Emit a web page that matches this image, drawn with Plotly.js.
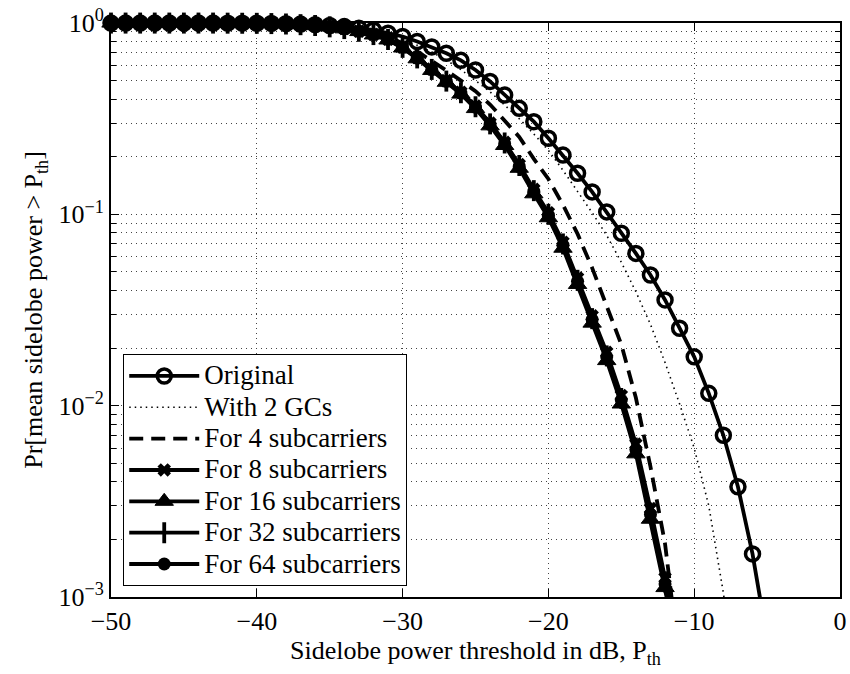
<!DOCTYPE html>
<html>
<head>
<meta charset="utf-8">
<script src="https://cdn.plot.ly/plotly-3.0.1.min.js"></script>
<style>html,body{margin:0;padding:0;background:#fff;}#chart{width:850px;height:674px;}</style>
</head>
<body>
<div id="chart"></div>
<script>
// Sidelobe power threshold (dB)
const thresholdDb = [-50,-49,-48,-47,-46,-45,-44,-43,-42,-41,-40,-39,-38,-37,-36,-35,-34,-33,-32,-31,-30,-29,-28,-27,-26,-25,-24,-23,-22,-21,-20,-19,-18,-17,-16,-15,-14,-13,-12,-11,-10,-9,-8,-7,-6,-5];

const original = [0.999,0.999,0.999,0.999,0.999,0.999,0.999,0.999,0.998,0.998,0.997,0.995,0.992,0.987,0.98,0.97,0.958,0.94,0.919,0.885,0.85,0.80,0.75,0.695,0.638,0.568,0.495,0.420,0.358,0.305,0.250,0.204,0.164,0.131,0.103,0.0796,0.0625,0.0482,0.0357,0.0254,0.0180,0.0116,0.0070,0.00377,0.00168,0.0006];

const with2GCs = [0.999,0.999,0.999,0.999,0.999,0.999,0.999,0.999,0.998,0.998,0.997,0.995,0.991,0.985,0.977,0.966,0.95,0.93,0.905,0.87,0.82,0.765,0.705,0.64,0.57,0.50,0.437,0.372,0.316,0.263,0.216,0.170,0.132,0.102,0.0776,0.0562,0.0394,0.0266,0.0168,0.0102,0.006,0.003,0.00105,0.0003];

const sub4 = [0.999,0.999,0.999,0.999,0.999,0.999,0.999,0.999,0.998,0.998,0.997,0.994,0.99,0.983,0.975,0.962,0.945,0.92,0.89,0.845,0.785,0.71,0.635,0.565,0.50,0.44,0.375,0.309,0.254,0.195,0.153,0.112,0.079,0.0525,0.0331,0.0209,0.011,0.0048,0.0019,0.00045];

const sub8 = [0.999,0.999,0.999,0.999,0.999,0.999,0.999,0.999,0.998,0.997,0.996,0.993,0.988,0.98,0.97,0.955,0.935,0.906,0.872,0.822,0.748,0.66,0.575,0.50,0.435,0.368,0.30,0.238,0.182,0.135,0.102,0.0715,0.0465,0.0295,0.019,0.0113,0.0063,0.0029,0.00126,0.00055];

const sub16 = [0.999,0.999,0.999,0.999,0.999,0.999,0.999,0.999,0.998,0.997,0.996,0.993,0.987,0.979,0.969,0.953,0.932,0.902,0.866,0.815,0.74,0.65,0.565,0.49,0.425,0.357,0.29,0.229,0.174,0.128,0.096,0.0665,0.043,0.027,0.0172,0.0102,0.0056,0.00255,0.00112,0.00048];

const sub32 = [0.999,0.999,0.999,0.999,0.999,0.999,0.999,0.999,0.998,0.997,0.996,0.993,0.988,0.98,0.97,0.955,0.935,0.905,0.87,0.82,0.746,0.657,0.572,0.497,0.432,0.365,0.297,0.236,0.18,0.133,0.1,0.07,0.0452,0.0285,0.0182,0.0109,0.006,0.00275,0.0012,0.00052];

const sub64 = [0.999,0.999,0.999,0.999,0.999,0.999,0.999,0.999,0.998,0.997,0.996,0.993,0.988,0.98,0.97,0.955,0.935,0.905,0.87,0.82,0.745,0.655,0.57,0.495,0.43,0.363,0.295,0.234,0.178,0.132,0.099,0.069,0.0447,0.0282,0.018,0.0107,0.0059,0.0027,0.00117,0.0005];

const seriesNames = ["Original","With 2 GCs","For 4 subcarriers","For 8 subcarriers","For 16 subcarriers","For 32 subcarriers","For 64 subcarriers"];

const yTickVals = [0.001, 0.01, 0.1, 1];
const yTickText = ["10<sup>−3</sup>","10<sup>−2</sup>","10<sup>−1</sup>","10<sup>0</sup>"];
const yMinorVals = [0.002,0.003,0.004,0.005,0.006,0.007,0.008,0.009,0.02,0.03,0.04,0.05,0.06,0.07,0.08,0.09,0.2,0.3,0.4,0.5,0.6,0.7,0.8,0.9];
const xTickVals = [-50,-40,-30,-20,-10,0];

const FONT = "Liberation Serif";
const gridDash = "1px,4px";
const gridColor = "#444";

function mk(y, name, line, marker) {
  const t = {
    x: thresholdDb.slice(0, y.length), y: y,
    name: '<span style="font-size:27px">' + name + '</span>', type: "scatter",
    mode: marker ? "lines+markers" : "lines",
    line: line, cliponaxis: false
  };
  if (marker) t.marker = marker;
  return t;
}

const traces = [
  mk(original, seriesNames[0], {color:"#000", width:3.8}, {symbol:"circle-open", size:14, color:"#000", line:{width:3.5, color:"#000"}}),
  mk(with2GCs, seriesNames[1], {color:"#000", width:1.6, dash:"1.5px,4px"}),
  mk(sub4, seriesNames[2], {color:"#000", width:3.8, dash:"14px,8px"}),
  mk(sub8, seriesNames[3], {color:"#000", width:3.8}, {symbol:"x", size:12, color:"#000", line:{width:0}}),
  mk(sub16, seriesNames[4], {color:"#000", width:3.8}, {symbol:"triangle-up", size:16, color:"#000", line:{width:1, color:"#000"}}),
  mk(sub32, seriesNames[5], {color:"#000", width:3.8}, {symbol:"line-ns-open", size:15, color:"#000", line:{width:3.8, color:"#000"}}),
  mk(sub64, seriesNames[6], {color:"#000", width:3.8}, {symbol:"circle", size:13, color:"#000", line:{width:0}})
];

const layout = {
  width: 850, height: 674,
  margin: {l:111, r:10, t:23, b:77},
  paper_bgcolor: "#fff", plot_bgcolor: "#fff",
  font: {family: FONT, size: 26, color: "#000"},
  showlegend: true,
  legend: {
    x: 0.0165, y: 0.019, xanchor: "left", yanchor: "bottom",
    bgcolor: "#fff", bordercolor: "#000", borderwidth: 1.2,
    font: {family: FONT, size: 21.8, color: "#000"},
    itemwidth: 70, tracegroupgap: 0
  },
  xaxis: {
    range: [-50, 0], tickmode: "array", tickvals: xTickVals,
    ticks: "inside", ticklen: 8, tickwidth: 1.2, tickcolor: "#000",
    showline: true, linecolor: "#000", linewidth: 2, mirror: "ticks",
    showgrid: true, gridcolor: gridColor, griddash: gridDash, gridwidth: 1,
    zeroline: false,
    tickfont: {family: FONT, size: 26, color: "#000"},
    title: {text: "Sidelobe power threshold in dB, P<sub>th</sub>", font: {family: FONT, size: 26, color: "#000"}, standoff: 2}
  },
  yaxis: {
    type: "log", range: [-3, 0], tickmode: "array", tickvals: yTickVals, ticktext: yTickText,
    ticks: "inside", ticklen: 8, tickwidth: 1.2, tickcolor: "#000",
    showline: true, linecolor: "#000", linewidth: 2, mirror: "ticks",
    showgrid: true, gridcolor: gridColor, griddash: gridDash, gridwidth: 1,
    zeroline: false,
    minor: {tickvals: yMinorVals, ticks: "inside", ticklen: 5, tickwidth: 1, tickcolor: "#000",
            showgrid: true, gridcolor: gridColor, griddash: gridDash, gridwidth: 1},
    tickfont: {family: FONT, size: 26, color: "#000"},
    title: {text: "Pr[mean sidelobe power &gt; P<sub>th</sub>]", font: {family: FONT, size: 26, color: "#000"}, standoff: 8}
  }
};

Plotly.newPlot("chart", traces, layout, {displayModeBar: false, staticPlot: true});
</script>
</body>
</html>
